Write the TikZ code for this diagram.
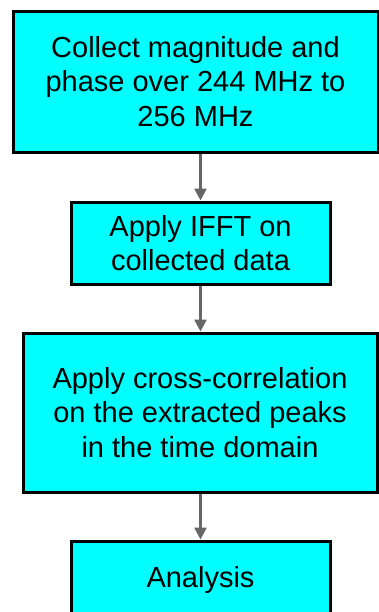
\documentclass[tikz,border=0pt]{standalone}
\usepackage{fontspec}
\setmainfont{Liberation Sans}
\usepackage{tikz}
\usetikzlibrary{arrows.meta}
\definecolor{boxcyan}{RGB}{0,255,255}
\definecolor{arrowgray}{RGB}{102,102,102}

\begin{document}
\begin{tikzpicture}[
x=0.5pt, y=-0.5pt,
MyBoxes/.style={draw=black,fill=boxcyan,line width=1.5pt,align=center,inner sep=0pt,font=\fontsize{14.5}{17.2}\selectfont},
Arrows/.style={-{Triangle[length=6pt,width=6pt]},draw=arrowgray,fill=arrowgray,line width=1.25pt}
]
\useasboundingbox (0,0) rectangle (379,612);
\clip (0,0) rectangle (379,612);

% centres of the four steps
\coordinate (P1) at (195.5,81.5);
\coordinate (P2) at (200.5,243);
\coordinate (P3) at (200,412.5);
\coordinate (P4) at (200.5,580);

\node[MyBoxes,minimum width=182.5pt,minimum height=70.5pt] (collect) at (P1) {Collect magnitude and\\phase over 244 MHz to\\256 MHz};
\node[MyBoxes,minimum width=129.5pt,minimum height=41pt] (ifft) at (P2) {Apply IFFT on\\collected data};
\node[MyBoxes,minimum width=177pt,minimum height=79.5pt] (xcorr) at (P3) {Apply cross-correlation\\on the extracted peaks\\in the time domain};
\node[MyBoxes,minimum width=129.5pt,minimum height=39pt] (analysis) at (P4) {Analysis};

\draw[Arrows] (collect.south -| ifft.north) -- (ifft.north);
\draw[Arrows] (ifft.south) -- (xcorr.north -| ifft.south);
\draw[Arrows] (xcorr.south -| analysis.north) -- (analysis.north);

\end{tikzpicture}
\end{document}
